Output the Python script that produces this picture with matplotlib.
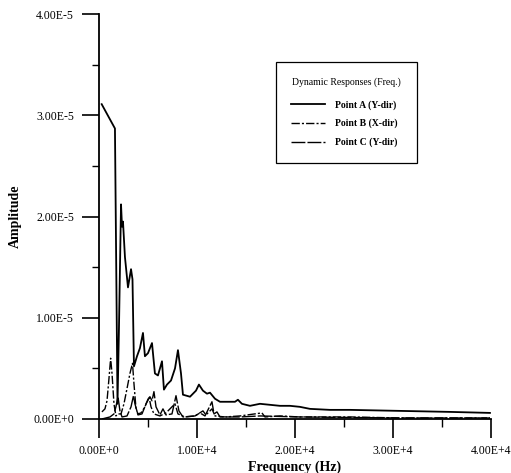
import numpy as np
import matplotlib
matplotlib.use('Agg')
import matplotlib.pyplot as plt
from matplotlib.ticker import MultipleLocator

plt.rcParams['font.family'] = ['Liberation Serif', 'DejaVu Serif']

# frequency (Hz) / amplitude (x1e-5)
freq_a = [275, 1630, 1790, 1890, 2040, 2250, 2350, 2450, 2650, 2960, 3270, 3420, 3570,
          3880, 4180, 4490, 4690, 5000, 5410, 5710, 6020, 6430, 6630, 6940, 7350, 7760,
          8060, 8370, 8570, 9290, 9900, 10200, 10610, 11020, 11330, 11840, 12350, 13880,
          14180, 14590, 15410, 16430, 17450, 18470, 19490, 20500, 21530, 23570, 25610,
          30710, 35820, 39900]
amp_a = [3.11, 2.87, 1.20, 0.15, 0.90, 2.12, 1.90, 1.95, 1.60, 1.30, 1.48, 1.38, 0.52,
         0.62, 0.70, 0.85, 0.62, 0.65, 0.75, 0.45, 0.43, 0.57, 0.29, 0.34, 0.38, 0.50,
         0.68, 0.45, 0.24, 0.22, 0.28, 0.34, 0.28, 0.25, 0.26, 0.20, 0.17, 0.17,
         0.19, 0.15, 0.13, 0.15, 0.14, 0.13, 0.13, 0.12, 0.10, 0.09, 0.09,
         0.08, 0.07, 0.06]

freq_b = [300, 610, 820, 1020, 1190, 1330, 1530, 1730, 1940, 2250, 2550, 2860, 3160,
          3420, 3570, 3780, 3980, 4290, 4690, 5100, 5310, 5610, 6220, 6840, 7450, 7760,
          8060, 8780, 9800, 10610, 10920, 11530, 11840, 12860, 14390, 16630, 16940,
          18470, 20500, 25610, 30710, 39900]
amp_b = [0.07, 0.10, 0.18, 0.40, 0.60, 0.45, 0.15, 0.03, 0.05, 0.05, 0.15, 0.30, 0.45,
         0.55, 0.35, 0.10, 0.05, 0.06, 0.12, 0.22, 0.12, 0.05, 0.03, 0.06, 0.12, 0.15,
         0.05, 0.02, 0.03, 0.08, 0.04, 0.10, 0.03, 0.02, 0.03, 0.06, 0.02,
         0.03, 0.02, 0.02, 0.01, 0.01]

freq_c = [300, 1120, 1530, 1730, 1940, 2140, 2350, 2860, 3270, 3520, 3670, 3980, 4390,
          4800, 5200, 5410, 5610, 5820, 6220, 6530, 6840, 7450, 7860, 8160, 8570, 9800,
          10310, 10820, 11530, 11740, 12040, 12350, 14390, 16430, 20500, 30710, 39900]
amp_c = [0.00, 0.02, 0.05, 0.12, 0.22, 0.08, 0.02, 0.03, 0.12, 0.23, 0.15, 0.04, 0.05,
         0.15, 0.22, 0.18, 0.27, 0.12, 0.04, 0.10, 0.04, 0.05, 0.23, 0.08, 0.02, 0.03,
         0.06, 0.03, 0.17, 0.05, 0.07, 0.02, 0.02, 0.03, 0.02, 0.01, 0.01]

labels = ['Point A (Y-dir)', 'Point B (X-dir)', 'Point C (Y-dir)']
xticks = [0, 10000, 20000, 30000, 40000]
xtick_labels = ['0.00E+0', '1.00E+4', '2.00E+4', '3.00E+4', '4.00E+4']
yticks = [0, 1e-5, 2e-5, 3e-5, 4e-5]
ytick_labels = ['0.00E+0', '1.00E-5', '2.00E-5', '3.00E-5', '4.00E-5']

fig = plt.figure(figsize=(5.11, 4.73), dpi=100)
ax = fig.add_axes([0.1937, 0.1142, 0.767, 0.856])

ax.plot(freq_a, np.array(amp_a) * 1e-5, color='black', lw=1.3, label=labels[0])
ax.plot(freq_b, np.array(amp_b) * 1e-5, color='black', lw=1.0,
        ls=(0, (6, 1.5, 1.5, 1.5)), label=labels[1])
ax.plot(freq_c, np.array(amp_c) * 1e-5, color='black', lw=1.0,
        ls=(0, (10, 1.5)), label=labels[2])

ax.set_xlim(0, 40000)
ax.set_ylim(0, 4e-5)
ax.set_xticks(xticks)
ax.set_xticklabels(xtick_labels)
ax.set_yticks(yticks)
ax.set_yticklabels(ytick_labels)
ax.xaxis.set_minor_locator(MultipleLocator(5000))
ax.yaxis.set_minor_locator(MultipleLocator(0.5e-5))

for s in ['top', 'right']:
    ax.spines[s].set_visible(False)
for s in ['left', 'bottom']:
    ax.spines[s].set_linewidth(1.3)

ax.tick_params(axis='x', which='major', direction='out', length=14, width=1.2,
               pad=4.5, labelsize=8.5)
ax.tick_params(axis='x', which='minor', direction='out', length=6, width=1.0)
ax.tick_params(axis='y', which='major', direction='out', length=12, width=1.2,
               pad=6, labelsize=8.5)
ax.tick_params(axis='y', which='minor', direction='out', length=5, width=1.0)

ax.set_xlabel('Frequency (Hz)', fontsize=10, fontweight='bold', labelpad=2.5)
ax.set_ylabel('Amplitude', fontsize=10, fontweight='bold', labelpad=8)

leg = ax.legend(title='Dynamic Responses (Freq.)', loc='upper left',
                bbox_to_anchor=(0.4515, 0.632, 0.359, 0.249), mode='expand',
                prop={'size': 7, 'weight': 'bold'}, title_fontsize=7,
                handlelength=3.4, handletextpad=1.1, labelspacing=0.95,
                borderpad=1.6, borderaxespad=0, fancybox=False,
                edgecolor='black', framealpha=1)
leg.get_frame().set_linewidth(0.9)
leg._legend_box.sep = 9

fig.savefig('out.png', dpi=100)
